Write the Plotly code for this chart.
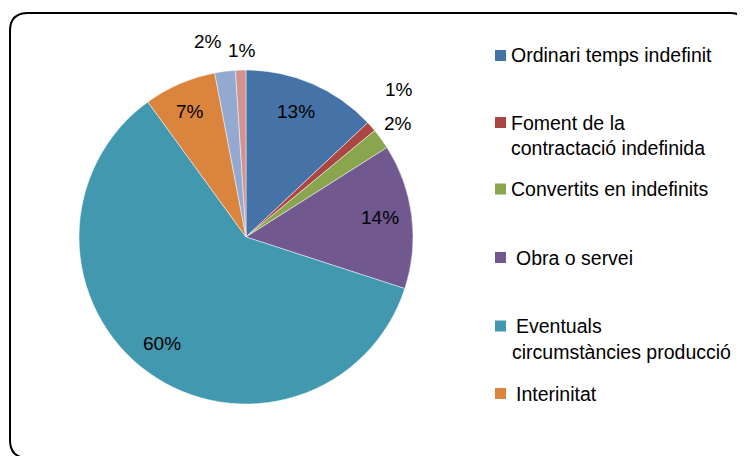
import math
import plotly.graph_objects as go

W, H = 745, 456
OFF = 8  # page body margin offset of the rendered figure

categories = [
    "Ordinari temps indefinit",
    "Foment de la contractació indefinida",
    "Convertits en indefinits",
    "Obra o servei",
    "Eventuals circumstàncies producció",
    "Interinitat",
    "Formació i pràctiques",
    "Altres",
]
values = [13, 1, 2, 14, 60, 7, 2, 1]
colors = ["#4572A7", "#AA4643", "#89A54E", "#71588F", "#4198AF", "#DB843D", "#93A9CF", "#D19392"]
# label distance from centre (fraction of radius) and small angular nudges (degrees)
label_radius = [0.81, 1.272, 1.134, 0.81, 0.81, 0.82, 1.19, 1.12]
label_nudge = [-1.8, -2.55, -0.8, -0.9, 2.4, -0.7, -3.8, 0.6]

# legend (only first six categories shown in the original)
legend_lines = [
    ["Ordinari temps indefinit"],
    ["Foment de la", "contractació indefinida"],
    ["Convertits en indefinits"],
    ["Obra o servei"],
    ["Eventuals", "circumstàncies producció"],
    ["Interinitat"],
]

FONT = "Liberation Sans, Arial, sans-serif"


def px(x):
    return (x - OFF) / W


def py(y):
    return 1 - (y - OFF) / H


# pie geometry (screen pixels)
CX, CY, R = 246, 237, 167

fig = go.Figure()
fig.add_trace(go.Pie(
    labels=categories,
    values=values,
    sort=False,
    direction="clockwise",
    rotation=0,
    marker=dict(colors=colors, line=dict(color="rgba(255,255,255,0.6)", width=0.8)),
    textinfo="none",
    domain=dict(x=[px(CX - R), px(CX + R)], y=[py(CY + R), py(CY - R)]),
    showlegend=False,
    hoverinfo="label+percent",
))

shapes = []
annotations = []

# percentage labels at each slice's mid-angle
total = sum(values)
cum = 0
for v, k, nd in zip(values, label_radius, label_nudge):
    mid = (cum + v / 2) / total * 2 * math.pi + math.radians(nd)
    cum += v
    x = CX + k * R * math.sin(mid)
    y = CY - k * R * math.cos(mid)
    annotations.append(dict(text=f"{round(100 * v / total)}%", x=px(x), y=py(y),
                            xref="paper", yref="paper", xanchor="center", yanchor="middle",
                            showarrow=False, font=dict(family=FONT, size=19, color="black")))

# rounded border
L, T, Rr, B, r = 10, 13, 748, 458, 18
path = (
    f"M {px(L+r)},{py(T)} L {px(Rr-r)},{py(T)} Q {px(Rr)},{py(T)} {px(Rr)},{py(T+r)} "
    f"L {px(Rr)},{py(B-r)} Q {px(Rr)},{py(B)} {px(Rr-r)},{py(B)} "
    f"L {px(L+r)},{py(B)} Q {px(L)},{py(B)} {px(L)},{py(B-r)} "
    f"L {px(L)},{py(T+r)} Q {px(L)},{py(T)} {px(L+r)},{py(T)} Z"
)
shapes.append(dict(type="path", path=path, xref="paper", yref="paper",
                   line=dict(color="black", width=2)))

# legend layout
sq_y = [55.5, 122.5, 189, 257.5, 326, 393.5]
txt_x = [509, 509, 509, 514, 514, 514]
line2_x = [None, 509, None, None, 510, None]
line_gap = 25.5
for i, lines in enumerate(legend_lines):
    yc = sq_y[i]
    shapes.append(dict(type="rect", xref="paper", yref="paper",
                       x0=px(495), x1=px(506), y0=py(yc - 5.5), y1=py(yc + 5.5),
                       fillcolor=colors[i], line=dict(width=0)))
    annotations.append(dict(text=lines[0], x=px(txt_x[i]), y=py(yc), xref="paper", yref="paper",
                            xanchor="left", yanchor="middle", showarrow=False,
                            font=dict(family=FONT, size=19.5, color="black")))
    if len(lines) > 1:
        annotations.append(dict(text=lines[1], x=px(line2_x[i]), y=py(yc + line_gap), xref="paper", yref="paper",
                                xanchor="left", yanchor="middle", showarrow=False,
                                font=dict(family=FONT, size=19.5, color="black")))

fig.update_layout(
    width=W, height=H,
    margin=dict(l=0, r=0, t=0, b=0),
    paper_bgcolor="white",
    plot_bgcolor="white",
    shapes=shapes,
    annotations=annotations,
)

fig.write_html("out.html")
